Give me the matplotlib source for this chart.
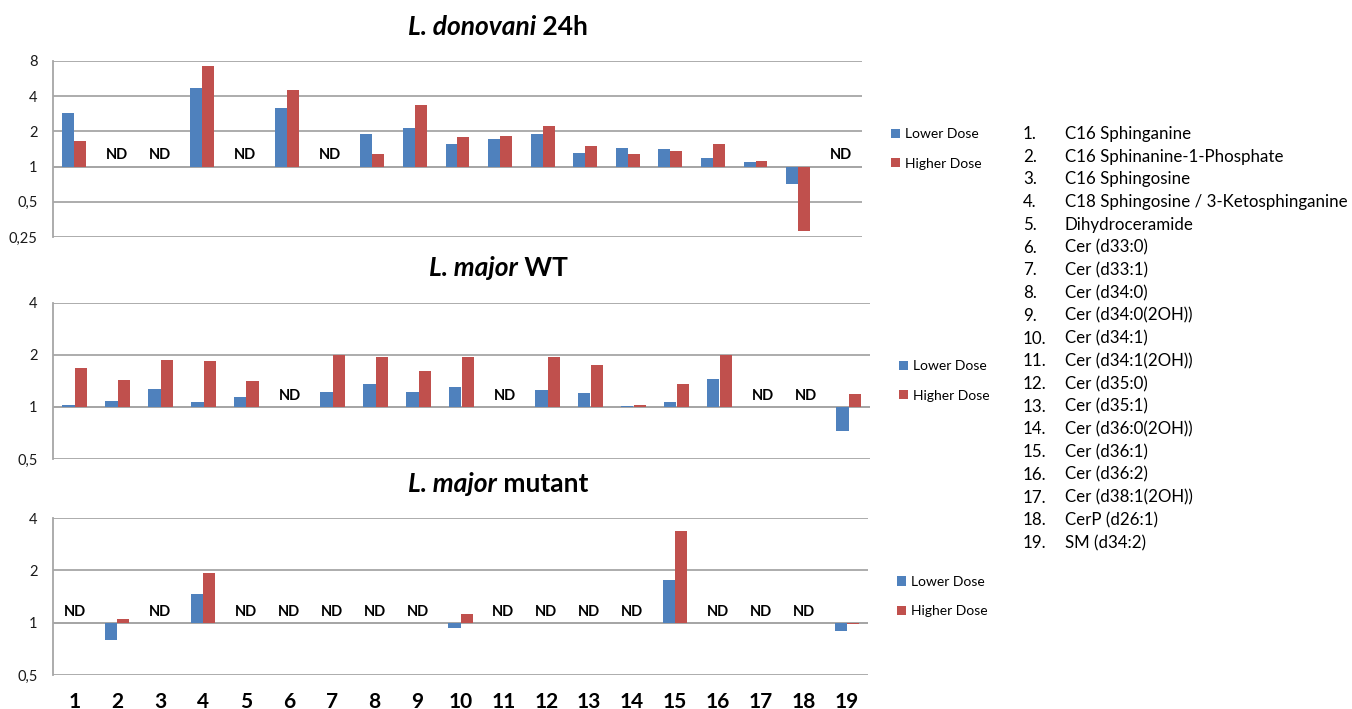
import matplotlib
matplotlib.use("Agg")
import matplotlib.pyplot as plt
import numpy as np

plt.rcParams['font.family'] = ['Lato', 'DejaVu Sans']

categories = [str(i) for i in range(1, 20)]
compounds = [
    "C16 Sphinganine", "C16 Sphinanine-1-Phosphate", "C16 Sphingosine",
    "C18 Sphingosine / 3-Ketosphinganine", "Dihydroceramide",
    "Cer (d33:0)", "Cer (d33:1)", "Cer (d34:0)", "Cer (d34:0(2OH))",
    "Cer (d34:1)", "Cer (d34:1(2OH))", "Cer (d35:0)", "Cer (d35:1)",
    "Cer (d36:0(2OH))", "Cer (d36:1)", "Cer (d36:2)", "Cer (d38:1(2OH))",
    "CerP (d26:1)", "SM (d34:2)",
]
series_names = ["Lower Dose", "Higher Dose"]

ND = None
# L. donovani 24h
don_lower = [2.9, ND, ND, 4.7, ND, 3.2, ND, 1.9, 2.13, 1.56, 1.71, 1.9, 1.31, 1.43, 1.42, 1.18, 1.10, 0.71, ND]
don_higher = [1.66, ND, ND, 7.2, ND, 4.55, ND, 1.28, 3.35, 1.78, 1.82, 2.24, 1.51, 1.29, 1.36, 1.56, 1.11, 0.28, ND]
# L. major WT
wt_lower = [1.03, 1.08, 1.27, 1.065, 1.15, ND, 1.22, 1.36, 1.22, 1.30, ND, 1.26, 1.20, 1.01, 1.07, 1.46, ND, ND, 0.73]
wt_higher = [1.69, 1.43, 1.88, 1.85, 1.42, ND, 2.0, 1.96, 1.62, 1.95, ND, 1.96, 1.76, 1.03, 1.36, 2.0, ND, ND, 1.19]
# L. major mutant
mut_lower = [ND, 0.79, ND, 1.46, ND, ND, ND, ND, ND, 0.93, ND, ND, ND, ND, 1.75, ND, ND, ND, 0.90]
mut_higher = [ND, 1.05, ND, 1.94, ND, ND, ND, ND, ND, 1.12, ND, ND, ND, ND, 3.36, ND, ND, ND, 0.98]

nd_donovani = [2, 3, 5, 7, 19]
nd_wt = [6, 11, 17, 18]
nd_mut = [1, 3, 5, 6, 7, 8, 9, 11, 12, 13, 14, 16, 17, 18]

yticks_don = [0.25, 0.5, 1, 2, 4, 8]
ytick_labels_don = ["0,25", "0,5", "1", "2", "4", "8"]
yticks_maj = [0.5, 1, 2, 4]
ytick_labels_maj = ["0,5", "1", "2", "4"]

BLUE = "#4F81BD"
RED = "#C0504D"
GRID = "#A6A6A6"

W, H = 1352, 709
fig = plt.figure(figsize=(W / 100, H / 100), dpi=100)


def px_axes(left, right, top, bottom):
    return fig.add_axes([left / W, 1 - bottom / H, (right - left) / W, (bottom - top) / H])


panels = [
    dict(box=(53, 862, 61, 237), lo=don_lower, hi=don_higher, nd=nd_donovani,
         yt=yticks_don, ytl=ytick_labels_don, ylim=(0.25, 8), title=("L. donovani", "24h"), ty=27, xlab=False),
    dict(box=(53, 870, 303, 459), lo=wt_lower, hi=wt_higher, nd=nd_wt,
         yt=yticks_maj, ytl=ytick_labels_maj, ylim=(0.5, 4), title=("L. major", "WT"), ty=268, xlab=False),
    dict(box=(53, 868, 518, 675), lo=mut_lower, hi=mut_higher, nd=nd_mut,
         yt=yticks_maj, ytl=ytick_labels_maj, ylim=(0.5, 4), title=("L. major", "mutant"), ty=484, xlab=True),
]

x = np.arange(len(categories))
bw = 0.28
renderer = fig.canvas.get_renderer()

for p in panels:
    ax = px_axes(*p['box'])
    ax.set_yscale('log', base=2)
    ax.set_ylim(*p['ylim'])
    ax.set_xlim(-0.5, len(categories) - 0.5)
    lo = np.array([np.nan if v is None else v for v in p['lo']], dtype=float)
    hi = np.array([np.nan if v is None else v for v in p['hi']], dtype=float)
    m1 = ~np.isnan(lo)
    m2 = ~np.isnan(hi)
    ax.bar(x[m1] - bw / 2, lo[m1] - 1, bottom=1, width=bw, color=BLUE, label=series_names[0], zorder=3)
    ax.bar(x[m2] + bw / 2, hi[m2] - 1, bottom=1, width=bw, color=RED, label=series_names[1], zorder=3)
    for c in p['nd']:
        ax.annotate("ND", (c - 1, 1), xytext=(0, 3), textcoords='offset points',
                    ha='center', va='bottom', fontsize=10.5, fontweight='bold', color='black')
    ax.set_yticks(p['yt'])
    ax.set_yticklabels(p['ytl'])
    ax.yaxis.set_minor_locator(matplotlib.ticker.NullLocator())
    ax.tick_params(axis='y', length=0, pad=11, labelsize=10.5, colors='#1a1a1a')
    ax.grid(axis='y', color=GRID, linewidth=1.3, zorder=0)
    for s in ['top', 'right', 'bottom']:
        ax.spines[s].set_visible(False)
    ax.spines['left'].set_color(GRID)
    ax.spines['left'].set_linewidth(1.3)
    ax.axhline(1, color=GRID, linewidth=1.3, zorder=2)
    if p['xlab']:
        ax.set_xticks(x)
        ax.set_xticklabels(categories, fontsize=15, fontweight='bold')
        ax.tick_params(axis='x', length=0, pad=12)
    else:
        ax.set_xticks([])
    ax.legend(loc='center left', bbox_to_anchor=(1.02, 0.5), frameon=False, fontsize=10,
              handlelength=0.65, handleheight=0.65, handletextpad=0.4, labelspacing=1.25)

    # title: italic bold species + bold rest, centered at x=497 px
    t1 = fig.text(0, 1 - p['ty'] / H, p['title'][0], fontsize=19, fontweight='bold', style='italic',
                  va='center', ha='left')
    t2 = fig.text(0, 1 - p['ty'] / H, " " + p['title'][1], fontsize=19, fontweight='bold',
                  va='center', ha='left')
    w1 = t1.get_window_extent(renderer).width
    w2 = t2.get_window_extent(renderer).width
    start = 498 - (w1 + w2) / 2
    t1.set_x(start / W)
    t2.set_x((start + w1) / W)

# Numbered compound list
y0, y1 = 134, 543
for i, name in enumerate(compounds):
    yy = y0 + (y1 - y0) * i / (len(compounds) - 1)
    fig.text(1023 / W, 1 - yy / H, f"{i + 1}.", fontsize=12.2, va='center', ha='left')
    fig.text(1065 / W, 1 - yy / H, name, fontsize=12.2, va='center', ha='left')

fig.savefig("out.png", dpi=100, facecolor='white')
